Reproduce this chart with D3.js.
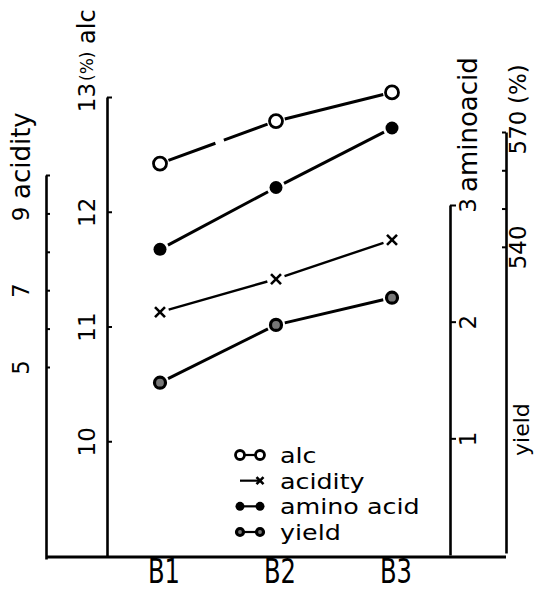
<!DOCTYPE html>
<html>
<head>
<meta charset="utf-8">
<script src="https://cdn.jsdelivr.net/npm/d3@7"></script>
<style>
  body { margin: 0; background: #fff; }
  svg { display: block; background: #fff; }
  text { font-family: "DejaVu Sans", sans-serif; fill: #000; }
</style>
</head>
<body>
<svg id="chart" width="536" height="591"></svg>
<script>
// data
const categories = ["B1", "B2", "B3"];
const seriesNames = ["alc", "acidity", "amino acid", "yield"];
const alcValues = [12.42, 12.79, 13.04];
const acidityValues = [6.43, 7.29, 8.31];
const aminoValues = [2.62, 3.15, 3.66];
const yieldValues = [504.5, 519.6, 526.7];

// tick values / labels of the four y axes
const acidityTicks = [5, 6, 7, 8, 9, 10];
const acidityLabels = [5, 7, 9];
const alcTicks = [10, 11, 12, 13];
const alcLabels = [10, 11, 12, 13];
const aminoTicks = [1, 2, 3];
const aminoLabels = [1, 2, 3];
const yieldTicks = [540, 550, 560, 570];
const yieldLabels = [540, 570];

const svg = d3.select("#chart");
const baseY = 557;

const x = d3.scalePoint().domain(categories).range([160, 392]);
const yAcid = d3.scaleLinear().domain([0, 10]).range([559, 175]);
const yAlc = d3.scaleLinear().domain([9, 13]).range([556, 97]);
const yAmino = d3.scaleLinear().domain([0, 3]).range([555, 205]);
const yYield = d3.scaleLinear().domain([460, 570]).range([553, 132]);

// baseline
svg.append("line")
    .attr("x1", 46).attr("x2", 506)
    .attr("y1", baseY).attr("y2", baseY)
    .attr("stroke", "#000").attr("stroke-width", 3);

// vertical axes with rotated labels
function drawAxis(xPos, scale, ticks, labels, tickLen, labelDx) {
    const g = svg.append("g").attr("transform", `translate(${xPos},0)`);
    g.call(d3.axisLeft(scale)
        .tickValues(ticks)
        .tickSize(tickLen)
        .tickSizeOuter(0)
        .tickFormat(d => labels.includes(d) ? d : ""));
    g.attr("font-family", null).attr("font-size", null);
    g.select(".domain").attr("stroke-width", 2.6);
    g.selectAll(".tick line").attr("stroke-width", 2);
    g.selectAll(".tick text")
        .attr("x", null).attr("dy", null)
        .attr("fill", "#000")
        .attr("transform", `translate(${labelDx},0) rotate(-90)`)
        .attr("text-anchor", "middle")
        .attr("dominant-baseline", "central")
        .style("font-size", "23px");
    return g;
}

drawAxis(46, yAcid, acidityTicks, acidityLabels, -4, -25);
drawAxis(107, yAlc, alcTicks, alcLabels, -5, -20);
drawAxis(450, yAmino, aminoTicks, aminoLabels, -6, 18);
drawAxis(506, yYield, yieldTicks, yieldLabels, 4, 12);

// axis titles, reading upward
function axisTitle(cx, y, parts) {
    const t = svg.append("text")
        .attr("transform", `translate(${cx},${y}) rotate(-90)`)
        .attr("text-anchor", "start")
        .attr("dominant-baseline", "central");
    parts.forEach(p => t.append("tspan").style("font-size", p[1] + "px").text(p[0]));
}
axisTitle(21, 199, [["acidity", 26]]);
axisTitle(87, 81, [["(%)", 17], ["\u00a0alc", 24]]);
axisTitle(468, 192, [["aminoacid", 26]]);
axisTitle(518, 104, [["(%)", 23]]);
axisTitle(521, 456, [["yield", 22]]);

// category labels
svg.selectAll(".cat")
    .data(categories)
    .enter()
    .append("text")
    .attr("class", "cat")
    .attr("transform", d => `translate(${x(d) + 4},583) scale(0.97,1.38)`)
    .attr("text-anchor", "middle")
    .style("font-size", "25px")
    .text(d => d);

// series
const series = [
    { name: seriesNames[0], values: alcValues, y: yAlc, kind: "open", width: 3 },
    { name: seriesNames[1], values: acidityValues, y: yAcid, kind: "cross", width: 2.4 },
    { name: seriesNames[2], values: aminoValues, y: yAmino, kind: "filled", width: 3 },
    { name: seriesNames[3], values: yieldValues, y: yYield, kind: "ring", width: 3 }
];

const line = d3.line();
const gap = 9;

function trim(p, q) {
    const dx = q[0] - p[0], dy = q[1] - p[1], L = Math.hypot(dx, dy);
    return [[p[0] + dx / L * gap, p[1] + dy / L * gap], [q[0] - dx / L * gap, q[1] - dy / L * gap]];
}

function drawMarker(g, kind, px, py, r) {
    if (kind === "cross") {
        g.append("path")
            .attr("d", `M${px - r},${py - r}L${px + r},${py + r}M${px - r},${py + r}L${px + r},${py - r}`)
            .attr("stroke", "#000").attr("stroke-width", 2.6).attr("fill", "none");
    } else {
        const c = g.append("circle").attr("cx", px).attr("cy", py);
        if (kind === "open") c.attr("r", r + 1.5).attr("fill", "#fff").attr("stroke", "#000").attr("stroke-width", 2.8);
        if (kind === "filled") c.attr("r", r + 1.5).attr("fill", "#000");
        if (kind === "ring") c.attr("r", r + 0.5).attr("fill", "#777").attr("stroke", "#000").attr("stroke-width", 3.2);
    }
}

series.forEach((s, si) => {
    const g = svg.append("g").attr("class", "series");
    const pts = s.values.map((v, i) => [x(categories[i]), s.y(v)]);
    d3.pairs(pts).forEach((pair, pi) => {
        const seg = g.append("path")
            .attr("d", line(trim(pair[0], pair[1])))
            .attr("fill", "none")
            .attr("stroke", "#000")
            .attr("stroke-width", s.width);
        // the scan shows a break in the first alc segment
        if (si === 0 && pi === 0) seg.attr("stroke-dasharray", "50,9,200");
    });
    pts.forEach(p => drawMarker(g, s.kind, p[0], p[1], 5));
});

// legend
const legendY = d3.scaleLinear().domain([0, 3]).range([463, 540]);
const legend = svg.append("g");
series.forEach((s, i) => {
    const by = legendY(i);
    const my = by - 8;
    legend.append("line")
        .attr("x1", 240).attr("x2", 259)
        .attr("y1", my).attr("y2", my)
        .attr("stroke", "#000").attr("stroke-width", 2.2);
    if (s.kind === "cross") {
        drawMarker(legend, "cross", 260, my, 3.5);
    } else {
        drawMarker(legend, s.kind, 240, my, 3);
        drawMarker(legend, s.kind, 260, my, 3);
    }
    legend.append("text")
        .attr("transform", `translate(280,${by}) scale(1.18,1)`)
        .style("font-size", "21.5px")
        .text(s.name);
});
</script>
</body>
</html>
